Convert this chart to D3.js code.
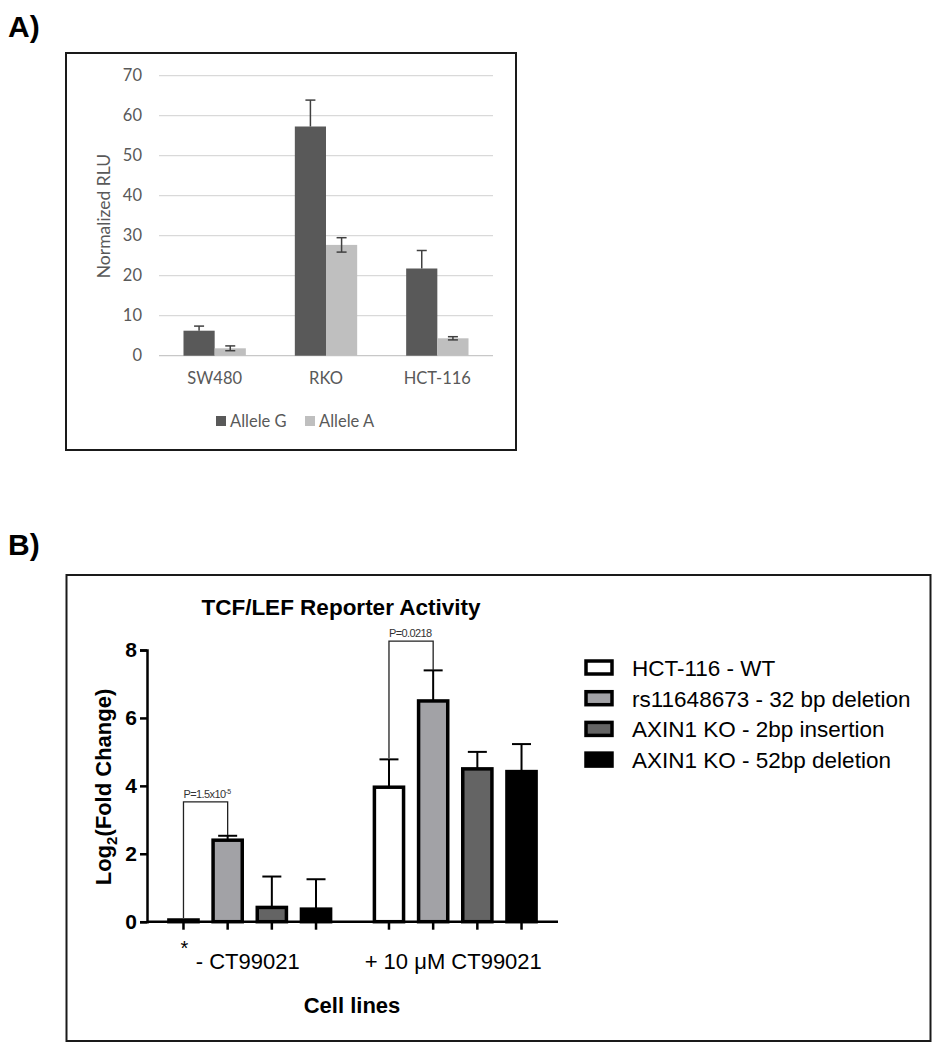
<!DOCTYPE html>
<html>
<head>
<meta charset="utf-8">
<script src="https://cdn.jsdelivr.net/npm/d3@7"></script>
<style>
  html, body { margin: 0; padding: 0; background: #fff; }
  svg { display: block; }
</style>
</head>
<body>
<svg id="chart" width="940" height="1050"></svg>
<script>
// ---------- Panel A data ----------
const aCategories = ["SW480", "RKO", "HCT-116"];
const aSeries = ["Allele G", "Allele A"];
const aAlleleG = [6.25, 57.3, 21.8];
const aAlleleGErr = [1.15, 6.6, 4.5];
const aAlleleA = [1.85, 27.7, 4.35];
const aAlleleAErr = [0.6, 1.8, 0.4];
const aYTicks = [0, 10, 20, 30, 40, 50, 60, 70];

// ---------- Panel B data ----------
const bGroups = ["- CT99021", "+ 10 \u03bcM CT99021"];
const bSeries = ["HCT-116 - WT", "rs11648673 - 32 bp deletion", "AXIN1 KO - 2bp insertion", "AXIN1 KO - 52bp deletion"];
const bNoDrug = [0.05, 2.4, 0.42, 0.37];
const bNoDrugErr = [0, 0.13, 0.91, 0.88];
const bDrug = [3.96, 6.5, 4.5, 4.42];
const bDrugErr = [0.82, 0.9, 0.5, 0.81];
const bYTicks = [0, 2, 4, 6, 8];
const bBrackets = [
  { group: 0, from: 0, to: 1, level: 3.53, leftEnd: 0.11, rightEnd: 2.55, text: "P=1.5x10", sup: "-5" },
  { group: 1, from: 0, to: 1, level: 8.26, leftEnd: 4.82, rightEnd: 7.41, text: "P=0.0218", sup: "" }
];

const svg = d3.select("#chart");

// ================= Panel A =================
(function () {
  const g = svg.append("g");
  const font = "Lato, 'Open Sans', sans-serif";
  const textCol = "#595959";
  const colors = ["#595959", "#bfbfbf"];

  g.append("text").attr("x", 8).attr("y", 37)
    .attr("font-family", "'Liberation Sans', Arial, sans-serif")
    .attr("font-weight", "bold").attr("font-size", 30).text("A)");

  g.append("rect").attr("x", 66).attr("y", 53).attr("width", 450).attr("height", 397)
    .attr("fill", "none").attr("stroke", "#1a1a1a").attr("stroke-width", 2);

  const y = d3.scaleLinear().domain([0, 70]).range([355.7, 75.7]);
  const x = d3.scaleBand().domain(aCategories).range([159, 493]).padding(0);
  const xs = d3.scaleBand().domain(aSeries).range([x.bandwidth() * 0.22, x.bandwidth() * 0.78]).padding(0);

  // gridlines
  g.append("g").selectAll("line").data(aYTicks).join("line")
    .attr("x1", 159).attr("x2", 493)
    .attr("y1", d => y(d)).attr("y2", d => y(d))
    .attr("stroke", d => d === 0 ? "#c8c8c8" : "#d9d9d9").attr("stroke-width", 1.2);

  const yAxis = g.append("g").attr("transform", "translate(150,0)")
    .call(d3.axisLeft(y).tickValues(aYTicks).tickSize(0).tickPadding(8));
  yAxis.select(".domain").remove();
  yAxis.selectAll("text").attr("font-family", font).attr("font-size", 16.5).attr("fill", textCol);

  g.append("text").attr("transform", "translate(110,216) rotate(-90)")
    .attr("text-anchor", "middle").attr("font-family", font).attr("font-size", 17.5)
    .attr("fill", textCol).text("Normalized RLU");

  const xAxis = g.append("g").attr("transform", "translate(0,358)")
    .call(d3.axisBottom(x).tickSize(0).tickPadding(14));
  xAxis.select(".domain").remove();
  xAxis.selectAll("text").attr("font-family", font).attr("font-size", 16.5).attr("fill", textCol);

  const rows = aCategories.map((c, i) => ({
    cat: c,
    vals: [
      { s: aSeries[0], v: aAlleleG[i], e: aAlleleGErr[i], plusOnly: true },
      { s: aSeries[1], v: aAlleleA[i], e: aAlleleAErr[i], plusOnly: false }
    ]
  }));

  const grp = g.append("g").selectAll("g").data(rows).join("g")
    .attr("transform", d => `translate(${x(d.cat)},0)`);
  grp.selectAll("rect").data(d => d.vals).join("rect")
    .attr("x", d => xs(d.s)).attr("width", xs.bandwidth())
    .attr("y", d => y(d.v)).attr("height", d => y(0) - y(d.v))
    .attr("fill", (d, i) => colors[i]);

  const eb = grp.selectAll("g.err").data(d => d.vals).join("g").attr("class", "err")
    .attr("transform", d => `translate(${xs(d.s) + xs.bandwidth() / 2},0)`);
  eb.append("line").attr("x1", 0).attr("x2", 0)
    .attr("y1", d => y(d.plusOnly ? d.v : d.v - d.e)).attr("y2", d => y(d.v + d.e))
    .attr("stroke", "#404040").attr("stroke-width", 1.5);
  eb.append("line").attr("x1", -5).attr("x2", 5)
    .attr("y1", d => y(d.v + d.e)).attr("y2", d => y(d.v + d.e))
    .attr("stroke", "#404040").attr("stroke-width", 1.5);
  eb.filter(d => !d.plusOnly).append("line").attr("x1", -5).attr("x2", 5)
    .attr("y1", d => y(d.v - d.e)).attr("y2", d => y(d.v - d.e))
    .attr("stroke", "#404040").attr("stroke-width", 1.5);

  // legend
  const legX = [216, 305];
  const leg = g.append("g").selectAll("g").data(aSeries).join("g")
    .attr("transform", (d, i) => `translate(${legX[i]},416)`);
  leg.append("rect").attr("width", 10).attr("height", 10).attr("fill", (d, i) => colors[i]);
  leg.append("text").attr("x", 14).attr("y", 11).attr("font-family", font)
    .attr("font-size", 16.5).attr("fill", textCol).text(d => d);
})();

// ================= Panel B =================
(function () {
  const g = svg.append("g");
  const font = "'Liberation Sans', Arial, sans-serif";
  const fills = ["#ffffff", "#a2a2a6", "#646464", "#000000"];

  g.append("text").attr("x", 8).attr("y", 555)
    .attr("font-family", font).attr("font-weight", "bold").attr("font-size", 30).text("B)");

  g.append("rect").attr("x", 66.5).attr("y", 575).attr("width", 864).attr("height", 466)
    .attr("fill", "none").attr("stroke", "#1a1a1a").attr("stroke-width", 2);

  g.append("text").attr("x", 341).attr("y", 615).attr("text-anchor", "middle")
    .attr("font-family", font).attr("font-weight", "bold").attr("font-size", 22.5)
    .text("TCF/LEF Reporter Activity");

  const y = d3.scaleLinear().domain([0, 8]).range([921.7, 650]);
  const x = d3.scaleBand().domain(bGroups).range([147, 558]).paddingInner(0.14).paddingOuter(0.07);
  const xs = d3.scaleBand().domain(bSeries).range([0, x.bandwidth()]).paddingInner(0.34).paddingOuter(0.17);

  const rows = bGroups.map((gname, gi) => ({
    group: gname,
    vals: bSeries.map((s, i) => ({
      s, i,
      v: gi === 0 ? bNoDrug[i] : bDrug[i],
      e: gi === 0 ? bNoDrugErr[i] : bDrugErr[i]
    }))
  }));

  const grp = g.append("g").selectAll("g").data(rows).join("g")
    .attr("transform", d => `translate(${x(d.group)},0)`);

  const eb = grp.selectAll("g.err").data(d => d.vals.filter(v => v.e > 0)).join("g").attr("class", "err")
    .attr("transform", d => `translate(${xs(d.s) + xs.bandwidth() / 2},0)`);
  eb.append("line").attr("x1", 0).attr("x2", 0)
    .attr("y1", d => y(d.v)).attr("y2", d => y(d.v + d.e))
    .attr("stroke", "#000").attr("stroke-width", 2);
  eb.append("line").attr("x1", -9.5).attr("x2", 9.5)
    .attr("y1", d => y(d.v + d.e)).attr("y2", d => y(d.v + d.e))
    .attr("stroke", "#000").attr("stroke-width", 2);

  grp.selectAll("rect").data(d => d.vals).join("rect")
    .attr("x", d => xs(d.s)).attr("width", xs.bandwidth())
    .attr("y", d => y(d.v)).attr("height", d => Math.max(0, y(0) - y(d.v)))
    .attr("fill", d => fills[d.i]).attr("stroke", "#000").attr("stroke-width", 3.5);

  bBrackets.forEach(b => {
    const gx = x(bGroups[b.group]);
    const x1 = gx + xs(bSeries[b.from]) + xs.bandwidth() / 2;
    const x2 = gx + xs(bSeries[b.to]) + xs.bandwidth() / 2;
    g.append("path")
      .attr("d", `M${x1},${y(b.leftEnd)}V${y(b.level)}H${x2}V${y(b.rightEnd)}`)
      .attr("fill", "none").attr("stroke", "#222").attr("stroke-width", 1.3);
    const t = g.append("text").attr("x", x1).attr("y", y(b.level) - 4)
      .attr("font-family", font).attr("font-size", 11).attr("fill", "#333")
      .attr("letter-spacing", -0.6).text(b.text);
    if (b.sup) t.append("tspan").attr("font-size", 7).attr("dy", -4).text(b.sup);
  });

  const yAxis = g.append("g").attr("transform", "translate(147,0)")
    .call(d3.axisLeft(y).tickValues(bYTicks).tickSize(7).tickPadding(3).tickFormat(d3.format("d")));
  yAxis.select(".domain").attr("stroke-width", 2.5);
  yAxis.selectAll(".tick line").attr("stroke-width", 2.5);
  yAxis.selectAll("text").attr("font-family", font).attr("font-weight", "bold").attr("font-size", 21);

  g.append("line").attr("x1", 147).attr("x2", 558).attr("y1", y(0)).attr("y2", y(0))
    .attr("stroke", "#000").attr("stroke-width", 2.5);
  const centers = [];
  rows.forEach(r => r.vals.forEach(v => centers.push(x(r.group) + xs(v.s) + xs.bandwidth() / 2)));
  g.append("g").selectAll("line").data(centers).join("line")
    .attr("x1", d => d).attr("x2", d => d).attr("y1", y(0)).attr("y2", y(0) + 8)
    .attr("stroke", "#000").attr("stroke-width", 2.5);

  g.append("g").selectAll("text").data(bGroups).join("text")
    .attr("x", d => x(d) + x.bandwidth() / 2 - 2).attr("y", 969).attr("text-anchor", "middle")
    .attr("font-family", font).attr("font-size", 22).text(d => d);

  g.append("text").attr("x", centers[0] + 1).attr("y", 955).attr("text-anchor", "middle")
    .attr("font-family", font).attr("font-size", 20).text("*");

  g.append("text").attr("x", 352).attr("y", 1013).attr("text-anchor", "middle")
    .attr("font-family", font).attr("font-weight", "bold").attr("font-size", 22).text("Cell lines");

  const yt = g.append("text").attr("transform", "translate(111,787) rotate(-90)")
    .attr("text-anchor", "middle").attr("font-family", font).attr("font-weight", "bold").attr("font-size", 22);
  yt.append("tspan").text("Log");
  yt.append("tspan").attr("font-size", 15).attr("dy", 6).text("2");
  yt.append("tspan").attr("dy", -6).text("(Fold Change)");

  const leg = g.append("g").selectAll("g").data(bSeries).join("g")
    .attr("transform", (d, i) => `translate(586,${661 + i * 30.7})`);
  leg.append("rect").attr("width", 26).attr("height", 13)
    .attr("fill", (d, i) => fills[i]).attr("stroke", "#000").attr("stroke-width", 3.5);
  leg.append("text").attr("x", 46).attr("y", 15)
    .attr("font-family", font).attr("font-size", 22.5).text(d => d);
})();
</script>
</body>
</html>
